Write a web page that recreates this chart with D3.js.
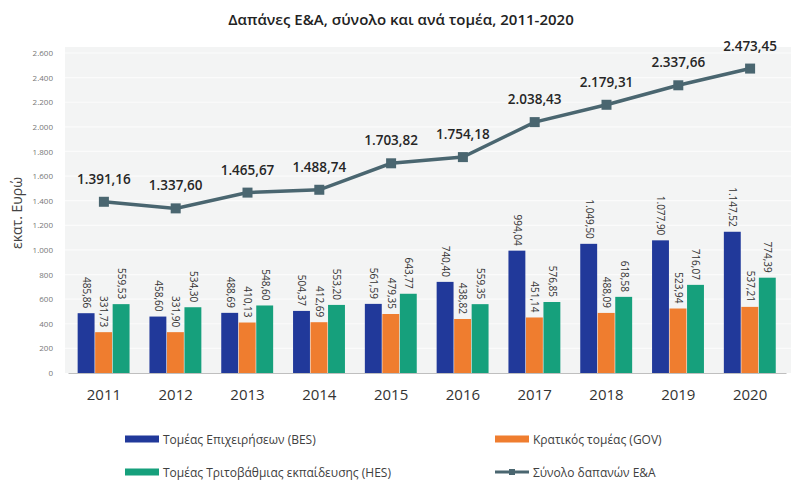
<!DOCTYPE html>
<html>
<head>
<meta charset="utf-8">
<script src="https://cdn.jsdelivr.net/npm/d3@7"></script>
<style>
  body { margin: 0; background: #fff; }
  text { font-family: "Open Sans", "DejaVu Sans", sans-serif; }
</style>
</head>
<body>
<svg id="chart"></svg>
<script>
// data
const years = ["2011","2012","2013","2014","2015","2016","2017","2018","2019","2020"];
const bes = [485.86, 458.60, 488.69, 504.37, 561.59, 740.40, 994.04, 1049.50, 1077.90, 1147.52];
const gov = [331.73, 331.90, 410.13, 412.69, 479.35, 438.82, 451.14, 488.09, 523.94, 537.21];
const hes = [559.53, 534.30, 548.60, 553.20, 643.77, 559.35, 576.85, 618.58, 716.07, 774.39];
const total = [1391.16, 1337.60, 1465.67, 1488.74, 1703.82, 1754.18, 2038.43, 2179.31, 2337.66, 2473.45];
const yTicks = [0,200,400,600,800,1000,1200,1400,1600,1800,2000,2200,2400,2600];
const seriesNames = ["Τομέας Επιχειρήσεων (BES)", "Κρατικός τομέας (GOV)", "Τομέας Τριτοβάθμιας εκπαίδευσης (HES)", "Σύνολο δαπανών Ε&Α"];

const width = 799, height = 484;
const colors = {bes: "#21399a", gov: "#ef7d2f", hes: "#16a07c", total: "#4a6670"};

const greek = d3.formatLocale({decimal: ",", thousands: ".", grouping: [3], currency: ["", "€"]});
const fmt2 = greek.format(",.2f");
const fmt0 = greek.format(",.0f");

const svg = d3.select("#chart").attr("width", width).attr("height", height);

const margin = {top: 53, right: 13, bottom: 111, left: 68};

const x = d3.scaleBand()
    .domain(years)
    .range([margin.left, width - margin.right]);

const y = d3.scaleLinear()
    .domain([0, 2600])
    .range([height - margin.bottom, margin.top]);

const keys = ["bes", "gov", "hes"];
const groupW = 52.5;
const xs = d3.scaleBand().domain(keys).range([0, groupW]);

// plot background + gridlines
svg.append("rect")
    .attr("x", 65).attr("y", y(2600) - 6)
    .attr("width", width - 65 - 8).attr("height", y(0) - y(2600) + 6)
    .attr("fill", "#f3f4f4");

svg.append("g")
    .selectAll("line")
    .data(yTicks.slice(1))
    .join("line")
    .attr("x1", 65).attr("x2", width - 8)
    .attr("y1", d => y(d)).attr("y2", d => y(d))
    .attr("stroke", "#fbfbfb").attr("stroke-width", 1.2);

// y axis
svg.append("g")
    .attr("transform", `translate(56,0)`)
    .call(d3.axisLeft(y).tickValues(yTicks).tickSize(0).tickFormat(fmt0))
    .call(g => g.select(".domain").remove())
    .call(g => g.selectAll("text").attr("font-size", 8).attr("fill", "#777"));

svg.append("text")
    .attr("transform", `translate(22,${(y(0) + y(2600)) / 2}) rotate(-90)`)
    .attr("text-anchor", "middle")
    .attr("font-size", 14)
    .attr("fill", "#444")
    .text("εκατ. Ευρώ");

// x axis
svg.append("g")
    .attr("transform", `translate(0,${y(0)})`)
    .call(d3.axisBottom(x).tickSize(0).tickPadding(16))
    .call(g => g.select(".domain").attr("stroke", "#bfbfbf"))
    .call(g => g.selectAll("text").attr("font-size", 15).attr("fill", "#333"));

// bars
const series = {bes: bes, gov: gov, hes: hes};
const groups = svg.append("g")
    .selectAll("g")
    .data(years)
    .join("g")
    .attr("transform", d => `translate(${x(d) + x.bandwidth() / 2 - groupW / 2},0)`);

groups.selectAll("rect")
    .data((d, i) => keys.map(k => ({k: k, v: series[k][i]})))
    .join("rect")
    .attr("x", d => xs(d.k))
    .attr("y", d => y(d.v))
    .attr("width", xs.bandwidth() - 0.6)
    .attr("height", d => y(0) - y(d.v))
    .attr("fill", d => colors[d.k]);

groups.selectAll("text")
    .data((d, i) => keys.map(k => ({k: k, v: series[k][i]})))
    .join("text")
    .attr("transform", d => `translate(${xs(d.k) + xs.bandwidth() / 2 - 3.5},${y(d.v) - 5}) rotate(90)`)
    .attr("text-anchor", "end")
    .attr("font-size", 10)
    .attr("fill", "#333")
    .text(d => fmt2(d.v));

// total line
const line = d3.line()
    .x((d, i) => x(years[i]) + x.bandwidth() / 2)
    .y(d => y(d));

svg.append("path")
    .datum(total)
    .attr("fill", "none")
    .attr("stroke", colors.total)
    .attr("stroke-width", 3.5)
    .attr("d", line);

svg.append("g")
    .selectAll("rect")
    .data(total)
    .join("rect")
    .attr("x", (d, i) => x(years[i]) + x.bandwidth() / 2 - 5)
    .attr("y", d => y(d) - 5)
    .attr("width", 10).attr("height", 10)
    .attr("fill", colors.total);

svg.append("g")
    .selectAll("text")
    .data(total)
    .join("text")
    .attr("x", (d, i) => x(years[i]) + x.bandwidth() / 2)
    .attr("y", d => y(d) - 18)
    .attr("text-anchor", "middle")
    .attr("font-size", 13.5)
    .attr("font-weight", 600)
    .attr("fill", "#262626")
    .text(d => fmt2(d));

// title
svg.append("text")
    .attr("x", 401).attr("y", 25)
    .attr("text-anchor", "middle")
    .attr("font-size", 15)
    .attr("font-weight", 600)
    .attr("fill", "#222")
    .text("Δαπάνες Ε&Α, σύνολο και ανά τομέα, 2011-2020");

// legend
const legendItems = [
  {name: seriesNames[0], color: colors.bes, x: 125, y: 439, type: "rect"},
  {name: seriesNames[1], color: colors.gov, x: 495, y: 439, type: "rect"},
  {name: seriesNames[2], color: colors.hes, x: 125, y: 472, type: "rect"},
  {name: seriesNames[3], color: colors.total, x: 495, y: 472, type: "line"}
];
const lg = svg.append("g")
    .selectAll("g")
    .data(legendItems)
    .join("g")
    .attr("transform", d => `translate(${d.x},${d.y})`);

lg.filter(d => d.type === "rect").append("rect")
    .attr("x", 0).attr("y", -3.5).attr("width", 34).attr("height", 7)
    .attr("fill", d => d.color);
lg.filter(d => d.type === "line").append("line")
    .attr("x1", 0).attr("x2", 34).attr("y1", 0).attr("y2", 0)
    .attr("stroke", d => d.color).attr("stroke-width", 3);
lg.filter(d => d.type === "line").append("rect")
    .attr("x", 14).attr("y", -3).attr("width", 6).attr("height", 6)
    .attr("fill", d => d.color);

lg.append("text")
    .attr("x", 38).attr("y", 4.5)
    .attr("font-size", 12)
    .attr("fill", "#404040")
    .text(d => d.name);
</script>
</body>
</html>
